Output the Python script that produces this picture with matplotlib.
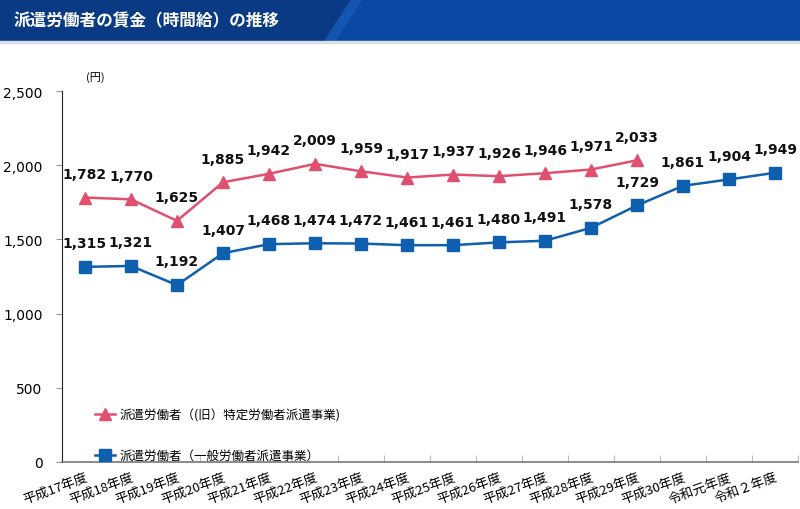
import numpy as np
import matplotlib
matplotlib.use("Agg")
from matplotlib import pylab as plt
from matplotlib.patches import Polygon, Rectangle

plt.rcParams['font.family'] = ['Noto Sans CJK JP', 'DejaVu Sans']

title = "派遣労働者の賃金（時間給）の推移"
years = ["平成17年度", "平成18年度", "平成19年度", "平成20年度", "平成21年度",
         "平成22年度", "平成23年度", "平成24年度", "平成25年度", "平成26年度",
         "平成27年度", "平成28年度", "平成29年度", "平成30年度", "令和元年度",
         "令和２年度"]
tokutei = [1782, 1770, 1625, 1885, 1942, 2009, 1959, 1917, 1937, 1926,
           1946, 1971, 2033]
ippan = [1315, 1321, 1192, 1407, 1468, 1474, 1472, 1461, 1461, 1480,
         1491, 1578, 1729, 1861, 1904, 1949]
label_red = "派遣労働者（(旧）特定労働者派遣事業)"
label_blue = "派遣労働者（一般労働者派遣事業）"

red = "#E0506E"
blue = "#0F5FAF"

fig = plt.figure(figsize=(8, 5.1), dpi=100)

# title banner
ban = fig.add_axes([0, 1 - 42 / 510, 1, 42 / 510])
ban.set_xlim(0, 800)
ban.set_ylim(0, 42)
ban.axis("off")
ban.add_patch(Rectangle((0, 0), 800, 42, color="#0B3A85"))
ban.add_patch(Polygon([(352, 42), (800, 42), (800, 0), (325, 0)], color="#0A48A6"))
ban.add_patch(Polygon([(352, 42), (362, 42), (335, 0), (325, 0)], color="#1455B2"))
ban.text(14, 21, title, color="white", fontsize=12, fontweight="bold", va="center")
fig.add_artist(Rectangle((0, 1 - 44 / 510), 1, 2 / 510, transform=fig.transFigure,
                         color="#D8DDE6"))

ax = fig.add_axes([62 / 800, 1 - 463 / 510, 736 / 800, (463 - 92) / 510])
x = np.arange(len(years))
xr = x[:len(tokutei)]

ax.plot(xr, tokutei, color=red, marker="^", markersize=9, linewidth=1.8, label=label_red)
ax.plot(x, ippan, color=blue, marker="s", markersize=8, linewidth=1.8, label=label_blue)

for xi, v in zip(xr, tokutei):
    ax.annotate(f"{v:,}", (xi, v), xytext=(0, 12), textcoords="offset points",
                ha="center", va="bottom", fontsize=10, fontweight="bold",
                family="DejaVu Sans", color="#111111")
for xi, v in zip(x, ippan):
    ax.annotate(f"{v:,}", (xi, v), xytext=(0, 12), textcoords="offset points",
                ha="center", va="bottom", fontsize=10, fontweight="bold",
                family="DejaVu Sans", color="#111111")

ax.set_xlim(-0.5, len(years) - 0.5)
ax.set_ylim(0, 2500)
ax.set_yticks(range(0, 2501, 500))
ax.set_yticklabels([f"{v:,}" for v in range(0, 2501, 500)], family="DejaVu Sans",
                   fontsize=10)
ax.set_xticks(np.arange(-0.5, len(years), 1), minor=False)
ax.set_xticklabels([])
ax.set_xticks(x, minor=True)
ax.set_xticklabels(years, minor=True, rotation=20, ha="right", fontsize=9.5,
                   rotation_mode="anchor")
ax.tick_params(axis="x", which="minor", length=0, pad=6)
ax.tick_params(axis="x", which="major", length=5, direction="in", color="#BBBBBB")
ax.tick_params(axis="y", length=4, color="#999999", pad=10)
for s in ["top", "right"]:
    ax.spines[s].set_visible(False)
ax.spines["left"].set_color("#222222")
ax.spines["bottom"].set_color("#777777")
ax.spines["bottom"].set_linewidth(1.2)

ax.text(0.02, 2560, "(円)", fontsize=8, ha="left", va="bottom")

ax.legend(loc="lower left", bbox_to_anchor=(0.03, -0.03), frameon=False,
          fontsize=9, handlelength=1.6, labelspacing=2.2, handletextpad=0.3)

fig.savefig("out.png", dpi=100)
